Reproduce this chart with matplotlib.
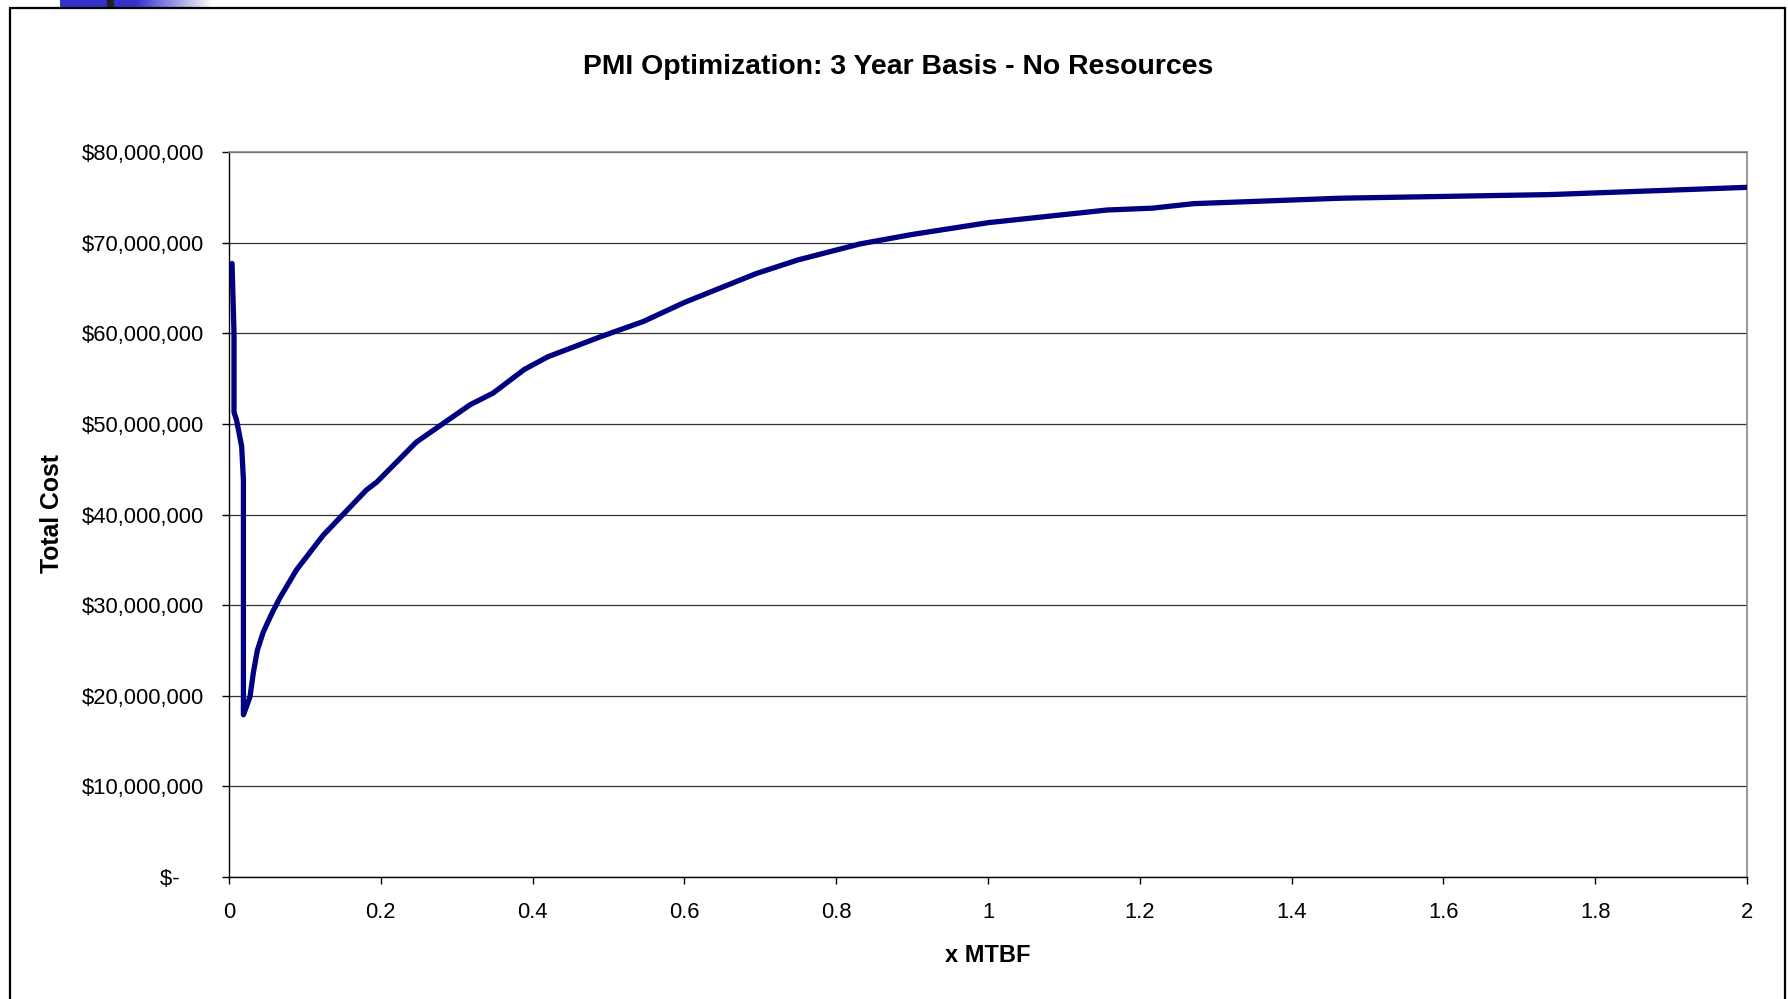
import matplotlib
matplotlib.use("Agg")
import matplotlib.pyplot as plt
import numpy as np
from matplotlib.patches import Rectangle
from matplotlib.ticker import FuncFormatter

plt.rcParams['font.family'] = ['Liberation Sans', 'DejaVu Sans']

# total cost curve vs. PM interval (fraction of MTBF)
x_mtbf = [0.004, 0.0066, 0.0066, 0.010, 0.0167, 0.019, 0.019, 0.023, 0.0277,
          0.032, 0.0373, 0.045, 0.056, 0.067, 0.089, 0.124, 0.181, 0.195,
          0.247, 0.3175, 0.348, 0.389, 0.42, 0.489, 0.546, 0.6, 0.695, 0.75,
          0.831, 0.9, 1.0, 1.157, 1.216, 1.271, 1.464, 1.74, 2.0]
total_cost_m = [67.7, 60.0, 51.3, 50.4, 47.5, 43.8, 17.9, 18.8, 19.9,
                22.5, 25.0, 27.0, 29.0, 30.8, 33.9, 37.7, 42.7, 43.6,
                48.0, 52.1, 53.4, 56.0, 57.4, 59.6, 61.3, 63.4, 66.6, 68.1,
                69.85, 70.9, 72.2, 73.6, 73.8, 74.3, 74.9, 75.3, 76.1]
x_ticks = [0, 0.2, 0.4, 0.6, 0.8, 1, 1.2, 1.4, 1.6, 1.8, 2]
y_ticks = [0, 10e6, 20e6, 30e6, 40e6, 50e6, 60e6, 70e6, 80e6]

W, H = 1788, 999
fig = plt.figure(figsize=(W / 100, H / 100), dpi=100)

# slide decoration strip at the top left
deco = fig.add_axes([60 / W, 1 - 7 / H, 153 / W, 7 / H])
grad = np.ones((1, 300, 3))
t = np.linspace(0, 1, 300)
fade = np.clip((t - 0.5) / 0.5, 0, 1)
base = np.array([0.2, 0.2, 0.8])
for i in range(3):
    grad[0, :, i] = base[i] + (1 - base[i]) * fade
dk = (t > (107 - 60) / 153) & (t < (114 - 60) / 153)
grad[0, dk, :] = 0.13
deco.imshow(grad, aspect='auto', interpolation='bilinear')
deco.axis('off')

# chart frame
fig.patches.append(Rectangle((10 / W, -0.05), 1775 / W, 1.05 - 8 / H,
                             transform=fig.transFigure, fill=False,
                             edgecolor='black', linewidth=1.6))

ax = fig.add_axes([229 / W, 1 - 877 / H, (1747 - 229) / W, (877 - 152) / H])
x = np.array(x_mtbf)
y = np.array(total_cost_m) * 1e6
ax.plot(x, y, color='#000080', linewidth=3.8, solid_joinstyle='round',
        solid_capstyle='round', zorder=3)

ax.set_xlim(0, 2)
ax.set_ylim(0, 80e6)
ax.set_xticks(x_ticks)
ax.set_yticks(y_ticks)
ax.xaxis.set_major_formatter(FuncFormatter(lambda v, p: f"{v:g}"))
ax.yaxis.set_major_formatter(
    FuncFormatter(lambda v, p: "$-    " if v == 0 else f"${v:,.0f}"))
ax.yaxis.grid(True, color='#333333', linewidth=0.9)
ax.set_axisbelow(True)

for s in ['top', 'right']:
    ax.spines[s].set_color('#888888')
    ax.spines[s].set_linewidth(1.2)
for s in ['left', 'bottom']:
    ax.spines[s].set_color('black')
    ax.spines[s].set_linewidth(1.0)
ax.tick_params(axis='y', direction='out', length=5, width=1, pad=13,
               labelsize=15.8)
ax.tick_params(axis='x', direction='out', length=5, width=1, pad=13,
               labelsize=15.8)

ax.set_xlabel('x MTBF', fontsize=17, fontweight='bold', labelpad=15)
fig.text(52 / W, 1 - 514 / H, 'Total Cost', rotation=90, fontsize=17.8,
         fontweight='bold', ha='center', va='center')
fig.text(898 / W, 1 - 67 / H, 'PMI Optimization: 3 Year Basis - No Resources',
         fontsize=20.4, fontweight='bold', ha='center', va='center')

fig.savefig('out.png', dpi=100)
